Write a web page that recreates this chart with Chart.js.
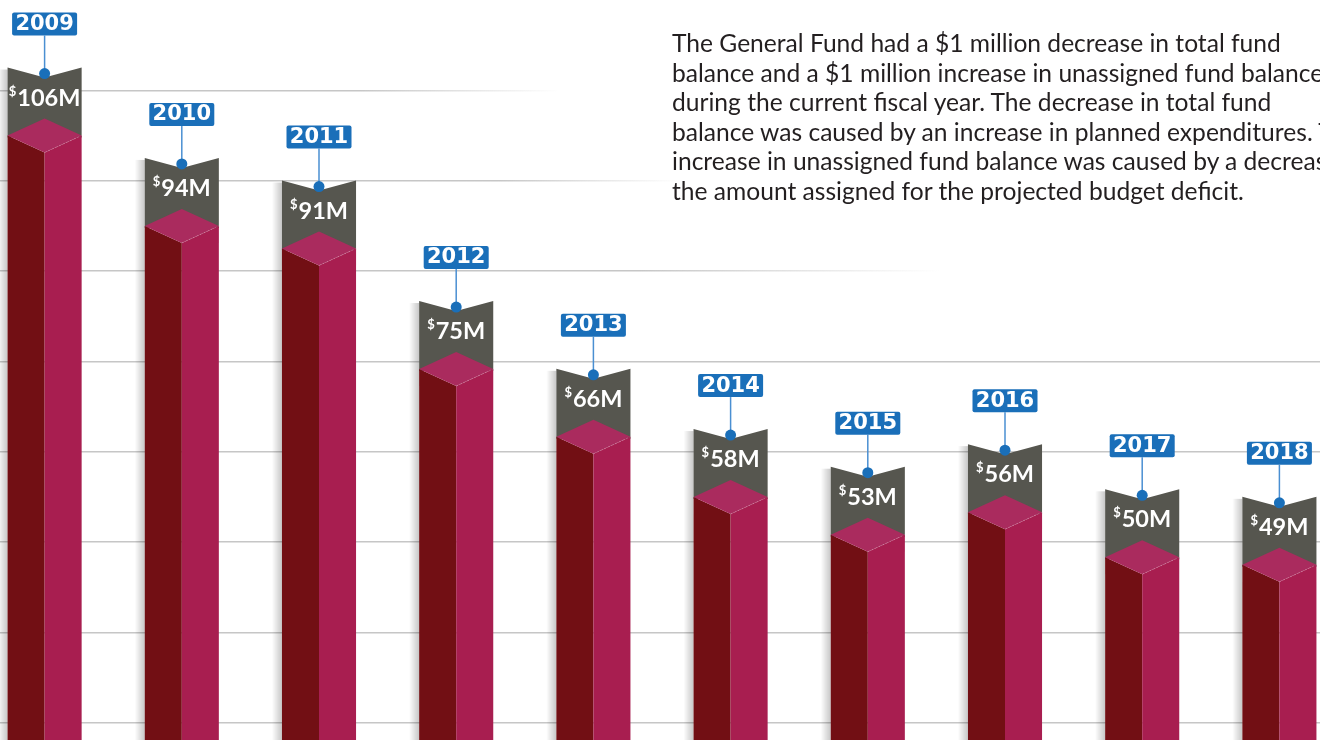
<!DOCTYPE html>
<html>
<head>
<meta charset="utf-8">
<script src="https://cdn.jsdelivr.net/npm/chart.js@4/dist/chart.umd.min.js"></script>
<style>
  html, body { margin: 0; padding: 0; background: #fff; }
  #wrap { position: relative; width: 1320px; height: 740px; overflow: hidden; }
  #holder { position: absolute; left: -23.6px; top: 0; width: 1372px; height: 740px; }
  #note {
    position: absolute; left: 672px; top: 28px; white-space: nowrap;
    font-family: Lato, "Open Sans", sans-serif; font-size: 24.6px; line-height: 29.5px; color: #231f20;
  }
</style>
</head>
<body>
<div id="wrap">
  <div id="holder"><canvas id="myChart" width="1372" height="740"></canvas></div>
  <div id="note">
    The General Fund had a $1 million decrease in total fund<br>
    balance and a $1 million increase in unassigned fund balance<br>
    during the current fiscal year. The decrease in total fund<br>
    balance was caused by an increase in planned expenditures. The<br>
    increase in unassigned fund balance was caused by a decrease in<br>
    the amount assigned for the projected budget deficit.
  </div>
</div>
<script>
var years = ['2009', '2010', '2011', '2012', '2013', '2014', '2015', '2016', '2017', '2018'];
var balances = [106, 94, 91, 75, 66, 58, 53, 56, 50, 49];   // $ millions
var valueLabels = ['$106M', '$94M', '$91M', '$75M', '$66M', '$58M', '$53M', '$56M', '$50M', '$49M'];

var LEFT_FACE = '#720f14', RIGHT_FACE = '#a81e50', TOP_FACE = '#aa2b5e';
var BANNER = '#56564f', BLUE = '#1a6fb9', GRID = '#c6c6c6';

// top three grid lines fade out under the text (x given in page px)
var fades = { 112: [360, 560], 100: [500, 680], 88: [640, 940] };

function gridColor(context) {
    var v = context.tick ? context.tick.value : null;
    if (v === 124) return 'rgba(0,0,0,0)';
    if (fades[v]) {
        var g = context.chart.ctx.createLinearGradient(fades[v][0] + 23.6, 0, fades[v][1] + 23.6, 0);
        g.addColorStop(0, GRID);
        g.addColorStop(1, 'rgba(198,198,198,0)');
        return g;
    }
    return GRID;
}

var bars3d = {
    id: 'bars3d',
    afterDatasetsDraw: function (chart) {
        var ctx = chart.ctx;
        var meta = chart.getDatasetMeta(0);
        meta.data.forEach(function (bar, i) {
            var cx = bar.x, hw = bar.width / 2, Y = bar.y, B = bar.base;
            var d = 17, bot = B - 4;
            ctx.save();

            // soft shadow on the left
            var sh = ctx.createLinearGradient(cx - hw - 10, 0, cx - hw, 0);
            sh.addColorStop(0, 'rgba(0,0,0,0)');
            sh.addColorStop(1, 'rgba(0,0,0,0.22)');
            ctx.fillStyle = sh;
            ctx.fillRect(cx - hw - 10, Y - 66, 10, bot - Y + 66);

            // grey banner behind the bar top
            ctx.fillStyle = BANNER;
            ctx.beginPath();
            ctx.moveTo(cx - hw, Y - 68);
            ctx.lineTo(cx, Y - 58);
            ctx.lineTo(cx + hw, Y - 68);
            ctx.lineTo(cx + hw, Y + 2);
            ctx.lineTo(cx - hw, Y + 2);
            ctx.closePath();
            ctx.fill();

            // left face
            ctx.fillStyle = LEFT_FACE;
            ctx.beginPath();
            ctx.moveTo(cx - hw, Y);
            ctx.lineTo(cx, Y + d);
            ctx.lineTo(cx, bot + d);
            ctx.lineTo(cx - hw, bot);
            ctx.closePath();
            ctx.fill();

            // right face
            ctx.fillStyle = RIGHT_FACE;
            ctx.beginPath();
            ctx.moveTo(cx, Y + d);
            ctx.lineTo(cx + hw, Y);
            ctx.lineTo(cx + hw, bot);
            ctx.lineTo(cx, bot + d);
            ctx.closePath();
            ctx.fill();

            // top face
            ctx.fillStyle = TOP_FACE;
            ctx.beginPath();
            ctx.moveTo(cx, Y - d);
            ctx.lineTo(cx + hw, Y);
            ctx.lineTo(cx, Y + d);
            ctx.lineTo(cx - hw, Y);
            ctx.closePath();
            ctx.fill();
            ctx.strokeStyle = 'rgba(255,255,255,0.25)';
            ctx.lineWidth = 0.8;
            ctx.setLineDash([2, 2]);
            ctx.beginPath();
            ctx.moveTo(cx, Y + d);
            ctx.lineTo(cx + hw, Y);
            ctx.stroke();
            ctx.setLineDash([]);

            // value label: small superscript $ plus bold figure
            var num = valueLabels[i].slice(1);
            ctx.fillStyle = '#ffffff';
            ctx.textBaseline = 'alphabetic';
            ctx.font = 'bold 23.5px Lato, "Open Sans", sans-serif';
            var wNum = ctx.measureText(num).width;
            ctx.font = 'bold 13px Lato, "Open Sans", sans-serif';
            var wDol = ctx.measureText('$').width;
            var x0 = cx - (wNum + wDol + 1) / 2;
            ctx.textAlign = 'left';
            ctx.fillText('$', x0, Y - 40);
            ctx.font = 'bold 23.5px Lato, "Open Sans", sans-serif';
            ctx.fillText(num, x0 + wDol + 1, Y - 30);

            // connector and dot
            ctx.strokeStyle = '#4a8fd2';
            ctx.lineWidth = 1.5;
            ctx.beginPath();
            ctx.moveTo(cx, Y - 62);
            ctx.lineTo(cx, Y - 100);
            ctx.stroke();
            ctx.fillStyle = BLUE;
            ctx.beginPath();
            ctx.arc(cx, Y - 62, 5.5, 0, Math.PI * 2);
            ctx.fill();

            // year tag
            ctx.beginPath();
            ctx.roundRect(cx - 32.5, Y - 123, 65, 23, 2);
            ctx.fill();
            ctx.fillStyle = '#ffffff';
            ctx.textAlign = 'center';
            ctx.textBaseline = 'middle';
            ctx.font = 'bold 21px "DejaVu Sans", sans-serif';
            ctx.fillText(years[i], cx, Y - 111);

            ctx.restore();
        });
    }
};

var ctx = document.getElementById('myChart').getContext('2d');
var chart = new Chart(ctx, {
    type: 'bar',
    data: {
        labels: years,
        datasets: [{
            label: 'General Fund balance',
            data: balances,
            backgroundColor: 'rgba(0,0,0,0)',
            borderWidth: 0,
            categoryPercentage: 1,
            barPercentage: 0.54
        }]
    },
    options: {
        responsive: false,
        devicePixelRatio: 1,
        animation: false,
        layout: { padding: { top: 0, left: 0, right: 0, bottom: 17 } },
        plugins: { legend: { display: false }, tooltip: { enabled: false } },
        scales: {
            x: { display: false },
            y: {
                min: 28,
                max: 124,
                ticks: { stepSize: 12, display: false },
                grid: { color: gridColor, lineWidth: 1.6, drawTicks: false, tickLength: 0 },
                border: { display: false }
            }
        }
    },
    plugins: [bars3d]
});
</script>
</body>
</html>
